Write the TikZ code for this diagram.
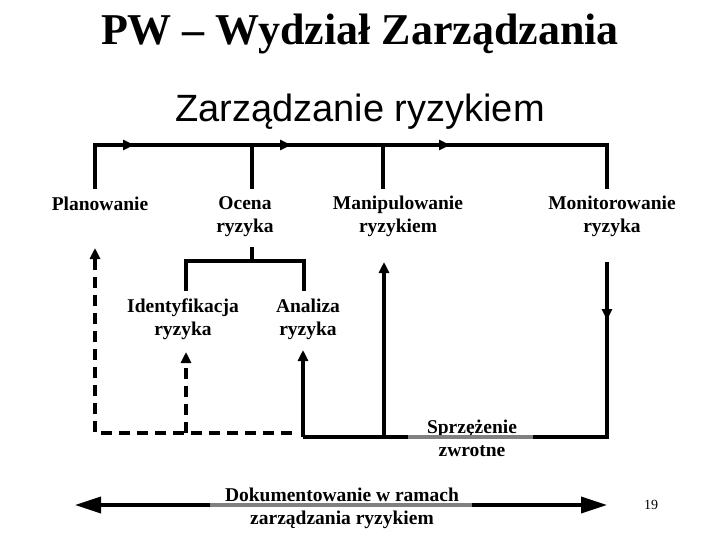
\documentclass[tikz,border=0pt]{standalone}
\usepackage{fontspec}
\setmainfont{Liberation Serif}
\newfontfamily\arialfont{Liberation Sans}
\usetikzlibrary{arrows.meta, positioning}

\begin{document}
\begin{tikzpicture}[x=1pt, y=-1pt,
    lbl/.style={font=\fontsize{19.5}{23}\selectfont\bfseries, align=center, inner sep=0pt,
        execute at begin node=\strut, execute at end node=\strut},
    line/.style={line width=3.5pt},
    dline/.style={line width=3.5pt, dash pattern=on 11pt off 7pt},
    gline/.style={line width=3.5pt, draw=gray},
    tip/.style={-{Triangle[length=11pt,width=10pt]}},
    bigtip/.style={{Triangle[length=26pt,width=16pt]}-{Triangle[length=26pt,width=16pt]}}
]
\useasboundingbox (0,0) rectangle (720,540);

\node[font=\fontsize{44}{50}\selectfont\bfseries, anchor=base] (title) at (360,45) {PW -- Wydział Zarządzania};
\node[font=\arialfont\fontsize{38}{44}\selectfont, anchor=base] (sub) at (360,122) {Zarządzanie ryzykiem};

\node[lbl, anchor=base] (plan) at (100,211) {Planowanie};
\node[lbl] (ocena) at (245,218) {Ocena\\ryzyka};
\node[lbl] (manip) at (398,218) {Manipulowanie\\ryzykiem};
\node[lbl] (monit) at (612,218) {Monitorowanie\\ryzyka};
\node[lbl] (ident) at (183,321) {Identyfikacja\\ryzyka};
\node[lbl] (anal) at (308,321) {Analiza\\ryzyka};
\node[lbl] (sprz) at (472,441.5) {Sprzężenie\\zwrotne};
\node[lbl] (dok) at (342,510) {Dokumentowanie w ramach\\zarządzania ryzykiem};
\node[font=\fontsize{14}{16}\selectfont] (nr) at (651,505) {19};

% top bracket
\coordinate (t1) at (95,145);
\coordinate (t2) at (252,145);
\coordinate (t3) at (383,145);
\coordinate (t4) at (607,145);
\draw[line] (95,189) -- (t1) -- (t4) -- (607,189);
\draw[line] (t2) -- (252,189);
\draw[line] (t3) -- (383,189);
\draw[line, tip] (t1) -- (134,145);
\draw[line, tip] (t2) -- (291,145);
\draw[line, tip] (t3) -- (450,145);

% ocena split
\draw[line] (252,247) -- (252,261);
\draw[line] (186,291) |- (304,261) -- (304,291);

% feedback loop
\coordinate (fb1) at (303,437);
\coordinate (fb2) at (408,437);
\coordinate (fb3) at (533,437);
\coordinate (fb4) at (607,437);
\draw[line] (fb1) -- (fb2);
\draw[gline] (fb2) -- (fb3);
\draw[line] (fb3) -- (fb4) -- (607,262);
\draw[line, tip] (fb1) -- (303,350);
\draw[line, tip] (384,437) -- (384,262);
\draw[line, tip] (607,290) -- (607,320);

% dashed returns
\draw[dline, tip] (292,433) -- (95,433) -- (95,248);
\draw[dline, tip] (186,433) -- (186,352);

% documentation
\coordinate (d1) at (210,505);
\coordinate (d2) at (472,505);
\draw[line, bigtip] (75,505) -- (607,505);
\draw[gline] (d1) -- (d2);

\end{tikzpicture}
\end{document}
